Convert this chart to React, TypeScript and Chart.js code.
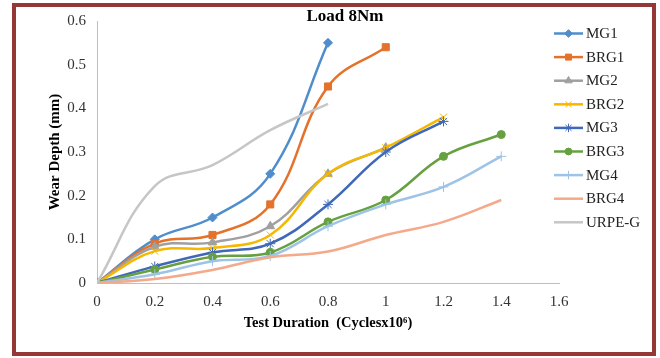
import React, { useEffect, useRef } from 'react';
import { Chart, registerables } from 'chart.js';
import { drawPoint } from 'chart.js/helpers';

Chart.register(...registerables);

const xValues = [0, 0.2, 0.4, 0.6, 0.8, 1.0, 1.2, 1.4];
const xTicks = [0, 0.2, 0.4, 0.6, 0.8, 1, 1.2, 1.4, 1.6];
const yTicks = [0, 0.1, 0.2, 0.3, 0.4, 0.5, 0.6];

const mg1 = [0, 0.10, 0.15, 0.25, 0.55];
const brg1 = [0, 0.09, 0.11, 0.18, 0.45, 0.54];
const mg2 = [0, 0.083, 0.093, 0.13, 0.25, 0.31];
const brg2 = [0, 0.073, 0.08, 0.11, 0.25, 0.31, 0.38];
const mg3 = [0, 0.038, 0.07, 0.09, 0.18, 0.30, 0.37];
const brg3 = [0, 0.031, 0.06, 0.07, 0.14, 0.19, 0.29, 0.34];
const mg4 = [0, 0.02, 0.05, 0.062, 0.13, 0.18, 0.22, 0.29];
const brg4 = [0, 0.009, 0.03, 0.059, 0.072, 0.11, 0.14, 0.19];
const urpeG = [0, 0.222, 0.27, 0.35, 0.41];

const seriesNames = ['MG1', 'BRG1', 'MG2', 'BRG2', 'MG3', 'BRG3', 'MG4', 'BRG4', 'URPE-G'];
const seriesValues = [mg1, brg1, mg2, brg2, mg3, brg3, mg4, brg4, urpeG];
const seriesColors = ['#4F8DCB', '#E4722B', '#A0A0A0', '#F5B800', '#3F68B8', '#66A040', '#9DC3E6', '#F4A98A', '#C6C6C6'];
const seriesMarkers: (string | null)[] = ['rectRot', 'rect', 'triangle', 'crossRot', 'star', 'circle', 'cross', null, null];
const markerRadius = [4.5, 5, 5, 5, 5, 4, 5, 0, 0];

const chartTitle = 'Load 8Nm';
const xTitle = 'Test Duration  (Cyclesx10\u2076)';
const yTitle = 'Wear Depth (mm)';

const FONT = "'Times New Roman', 'Liberation Serif', serif";

export default function App() {
  const ref = useRef<HTMLCanvasElement | null>(null);

  useEffect(() => {
    const canvas = ref.current;
    if (!canvas) return;

    const datasets = seriesNames.map((name, i) => ({
      label: name,
      data: seriesValues[i].map((v, j) => ({ x: xValues[j], y: v })),
      borderColor: seriesColors[i],
      backgroundColor: seriesColors[i],
      borderWidth: 2.5,
      tension: 0.4,
      pointStyle: seriesMarkers[i] || 'circle',
      pointRadius: seriesMarkers[i] ? markerRadius[i] : 0,
      pointBorderWidth: 1,
      pointBackgroundColor: seriesColors[i],
      pointBorderColor: seriesColors[i],
      order: seriesNames.length - i,
    }));

    const overlay = {
      id: 'overlay',
      afterDraw(chart: any) {
        const ctx = chart.ctx as CanvasRenderingContext2D;
        ctx.save();
        ctx.fillStyle = '#000';
        ctx.font = `bold 17px ${FONT}`;
        ctx.textAlign = 'center';
        ctx.textBaseline = 'middle';
        ctx.fillText(chartTitle, 345, 16.5);

        seriesNames.forEach((name, i) => {
          const y = 33.5 + i * 23.6;
          ctx.strokeStyle = seriesColors[i];
          ctx.lineWidth = 2.5;
          ctx.beginPath();
          ctx.moveTo(554, y);
          ctx.lineTo(583, y);
          ctx.stroke();
          const m = seriesMarkers[i];
          if (m) {
            ctx.fillStyle = seriesColors[i];
            ctx.strokeStyle = seriesColors[i];
            ctx.lineWidth = 1;
            drawPoint(ctx, { pointStyle: m as any, radius: markerRadius[i] * 0.85, borderWidth: 1, rotation: 0 } as any, 568.5, y);
          }
          ctx.fillStyle = '#222';
          ctx.font = `15px ${FONT}`;
          ctx.textAlign = 'left';
          ctx.textBaseline = 'middle';
          ctx.fillText(name, 586, y + 0.5);
        });
        ctx.restore();
      },
    };

    const fmt = (v: number) => String(Math.round(v * 10) / 10);

    const chart = new Chart(canvas, {
      type: 'line',
      data: { datasets: datasets as any },
      plugins: [overlay],
      options: {
        animation: false,
        responsive: false,
        maintainAspectRatio: false,
        layout: { padding: { left: 16, top: 21, right: 101, bottom: 6 } },
        plugins: {
          legend: { display: false },
          title: { display: false },
          tooltip: { enabled: false },
        },
        scales: {
          x: {
            type: 'linear',
            min: 0,
            max: 1.6,
            afterBuildTicks: (scale: any) => {
              scale.ticks = xTicks.map((v) => ({ value: v }));
            },
            afterFit: (scale: any) => {
              scale.height = 358 - 283 - 6;
            },
            grid: { display: false, drawTicks: false },
            border: { display: true, color: '#BFBFBF', width: 1 },
            ticks: {
              padding: 10,
              color: '#333',
              font: { family: FONT, size: 15 },
              maxRotation: 0,
              autoSkip: false,
              callback: (v: any) => fmt(Number(v)),
            },
            title: {
              display: true,
              text: xTitle,
              color: '#000',
              font: { family: FONT, size: 14.5, weight: 'bold' },
              padding: { top: 0, bottom: 20 },
            },
          },
          y: {
            type: 'linear',
            min: 0,
            max: 0.6,
            afterBuildTicks: (scale: any) => {
              scale.ticks = yTicks.map((v) => ({ value: v }));
            },
            afterFit: (scale: any) => {
              scale.width = 97 - 16;
            },
            grid: { display: false, drawTicks: false },
            border: { display: true, color: '#BFBFBF', width: 1 },
            ticks: {
              padding: 11,
              color: '#333',
              font: { family: FONT, size: 15 },
              callback: (v: any) => fmt(Number(v)),
            },
            title: {
              display: true,
              text: yTitle,
              color: '#000',
              font: { family: FONT, size: 15, weight: 'bold' },
              padding: { top: 30, bottom: 0 },
            },
          },
        },
      } as any,
    });

    return () => chart.destroy();
  }, []);

  return (
    <div style={{ position: 'fixed', left: 0, top: 0, width: 660, height: 358, background: '#fff' }}>
      <canvas ref={ref} width={660} height={358} style={{ position: 'absolute', left: 0, top: 0, width: 660, height: 358 }} />
      <div
        style={{
          position: 'absolute',
          left: 12,
          top: 3,
          width: 644,
          height: 353,
          boxSizing: 'border-box',
          border: '4px solid #953735',
          pointerEvents: 'none',
        }}
      />
    </div>
  );
}
